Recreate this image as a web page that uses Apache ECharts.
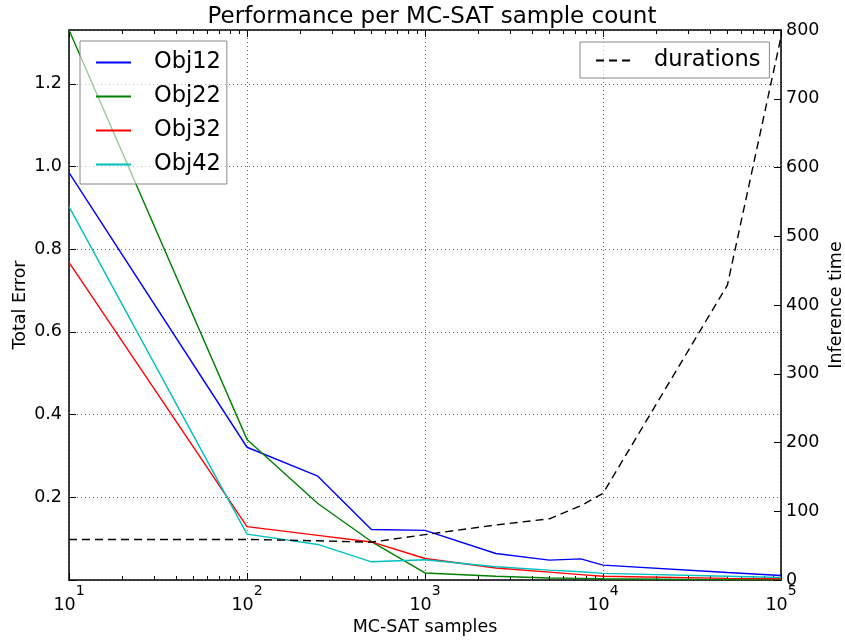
<!DOCTYPE html>
<html>
<head>
<meta charset="utf-8">
<script src="https://cdn.jsdelivr.net/npm/echarts@6/dist/echarts.min.js"></script>
<style>
  html, body { margin: 0; padding: 0; background: #fff; }
  #main { width: 845px; height: 640px; }
</style>
</head>
<body>
<div id="main"></div>
<script>
// 資料
let samples = [10, 100, 250, 500, 1000, 2500, 5000, 7500, 10000, 50000, 100000];
let obj12 = [0.985, 0.321, 0.251, 0.122, 0.120, 0.064, 0.048, 0.051, 0.036, 0.018, 0.011];
let obj22 = [1.33, 0.340, 0.185, 0.093, 0.017, 0.009, 0.005, 0.004, 0.003, 0.001, 0.001];
let obj32 = [0.768, 0.129, 0.108, 0.092, 0.052, 0.029, 0.019, 0.013, 0.009, 0.004, 0.003];
let obj42 = [0.903, 0.111, 0.086, 0.044, 0.049, 0.032, 0.024, 0.020, 0.016, 0.009, 0.006];
let durations = [59, 59, 57, 55, 66, 80, 89, 108, 126, 429, 790];

let majorTicks = [10, 100, 1000, 10000, 100000];
let minorTicks = [];
majorTicks.slice(0, -1).forEach(function(d) {
    for (let k = 2; k <= 9; k++) {
        minorTicks.push(d * k);
    }
});

let font = 'DejaVu Sans';

let pairs = function(ys) {
    return samples.map(function(x, i) { return [x, ys[i]]; });
};

let lineSeries = function(name, ys, color) {
    return {
        name: name,
        type: 'line',
        xAxisIndex: 0,
        yAxisIndex: 0,
        symbol: 'none',
        color: color,
        lineStyle: { color: color, width: 1.4 },
        data: pairs(ys),
        z: 3
    };
};

let xBase = function(pos) {
    return {
        type: 'log',
        logBase: 10,
        position: pos,
        min: 10,
        max: 100000,
        gridIndex: 0
    };
};

let legendBase = {
    orient: 'vertical',
    itemWidth: 35,
    itemHeight: 14,
    itemGap: 11,
    borderColor: '#888',
    borderWidth: 1,
    backgroundColor: 'rgba(255,255,255,0.6)',
    itemStyle: { opacity: 0 },
    textStyle: { fontFamily: font, fontSize: 22.5, lineHeight: 20, color: '#000', padding: [0, 0, 0, 18] }
};

let myChart = echarts.init(document.getElementById('main'));
let options = {
    animation: false,
    textStyle: { fontFamily: font },
    title: {
        text: 'Performance per MC-SAT sample count',
        left: 427,
        textAlign: 'center',
        top: 1,
        textStyle: { fontFamily: font, fontSize: 23, fontWeight: 'normal', color: '#000' }
    },
    grid: { left: 69, right: 64, top: 30, bottom: 60, outerBoundsMode: 'none' },
    legend: [
        Object.assign({}, legendBase, {
            data: ['Obj12', 'Obj22', 'Obj32', 'Obj42'],
            left: 80,
            top: 41,
            padding: [10, 6, 8, 15]
        }),
        Object.assign({}, legendBase, {
            data: ['durations'],
            left: 580,
            top: 42,
            padding: [7, 9, 6, 15]
        })
    ],
    xAxis: [
        Object.assign(xBase('bottom'), {
            name: 'MC-SAT samples',
            nameLocation: 'middle',
            nameGap: 38,
            nameMoveOverlap: false,
            nameTextStyle: { fontFamily: font, fontSize: 17.5, color: '#000' },
            axisLine: { show: true, lineStyle: { color: '#000', width: 1.5 } },
            axisTick: { show: true, inside: true, length: 7, lineStyle: { color: '#000' } },
            splitLine: { show: true, lineStyle: { color: '#666', width: 1, type: [1, 3] } },
            axisLabel: {
                margin: 4,
                formatter: function(v) {
                    return '{b|10}{s|' + Math.round(Math.log10(v)) + '}';
                },
                rich: {
                    b: { fontFamily: font, fontSize: 17.5, lineHeight: 30, color: '#000', verticalAlign: 'bottom' },
                    s: { fontFamily: font, fontSize: 14, lineHeight: 12, color: '#000', verticalAlign: 'top' }
                }
            }
        }),
        Object.assign(xBase('bottom'), {
            axisLine: { show: false },
            axisLabel: { show: false },
            splitLine: { show: false },
            axisTick: { show: true, inside: true, length: 4, customValues: minorTicks, lineStyle: { color: '#000' } }
        }),
        Object.assign(xBase('top'), {
            axisLine: { show: true, lineStyle: { color: '#000', width: 1.5 } },
            axisLabel: { show: false },
            splitLine: { show: false },
            axisTick: { show: true, inside: true, length: 7, lineStyle: { color: '#000' } }
        }),
        Object.assign(xBase('top'), {
            axisLine: { show: false },
            axisLabel: { show: false },
            splitLine: { show: false },
            axisTick: { show: true, inside: true, length: 4, customValues: minorTicks, lineStyle: { color: '#000' } }
        })
    ],
    yAxis: [
        {
            type: 'value',
            position: 'left',
            min: 0,
            max: 1.33,
            interval: 0.2,
            name: 'Total Error',
            nameLocation: 'middle',
            nameGap: 40,
            nameMoveOverlap: false,
            nameTextStyle: { fontFamily: font, fontSize: 17.5, color: '#000' },
            axisLine: { show: true, lineStyle: { color: '#000', width: 1.5 } },
            axisTick: { show: true, inside: true, length: 7, lineStyle: { color: '#000' } },
            splitLine: { show: true, lineStyle: { color: '#666', width: 1, type: [1, 3] } },
            axisLabel: {
                margin: 7,
                showMaxLabel: false,
                fontFamily: font,
                fontSize: 17.5,
                color: '#000',
                formatter: function(v) {
                    return v === 0 ? '' : v.toFixed(1);
                }
            }
        },
        {
            type: 'value',
            position: 'right',
            min: 0,
            max: 800,
            interval: 100,
            name: 'Inference time',
            nameLocation: 'middle',
            nameGap: 46,
            nameMoveOverlap: false,
            nameTextStyle: { fontFamily: font, fontSize: 17.5, color: '#000' },
            axisLine: { show: true, lineStyle: { color: '#000', width: 1.5 } },
            axisTick: { show: true, inside: true, length: 7, lineStyle: { color: '#000' } },
            splitLine: { show: false },
            axisLabel: { margin: 5, fontFamily: font, fontSize: 17.5, color: '#000' }
        }
    ],
    series: [
        lineSeries('Obj12', obj12, '#0000ff'),
        lineSeries('Obj22', obj22, '#008000'),
        lineSeries('Obj32', obj32, '#ff0000'),
        lineSeries('Obj42', obj42, '#00bfbf'),
        {
            name: 'durations',
            type: 'line',
            xAxisIndex: 0,
            yAxisIndex: 1,
            symbol: 'none',
            color: '#000',
            lineStyle: { color: '#000', width: 1.4, type: [8, 5] },
            data: pairs(durations),
            z: 3
        }
    ]
};
myChart.setOption(options);
</script>
</body>
</html>
